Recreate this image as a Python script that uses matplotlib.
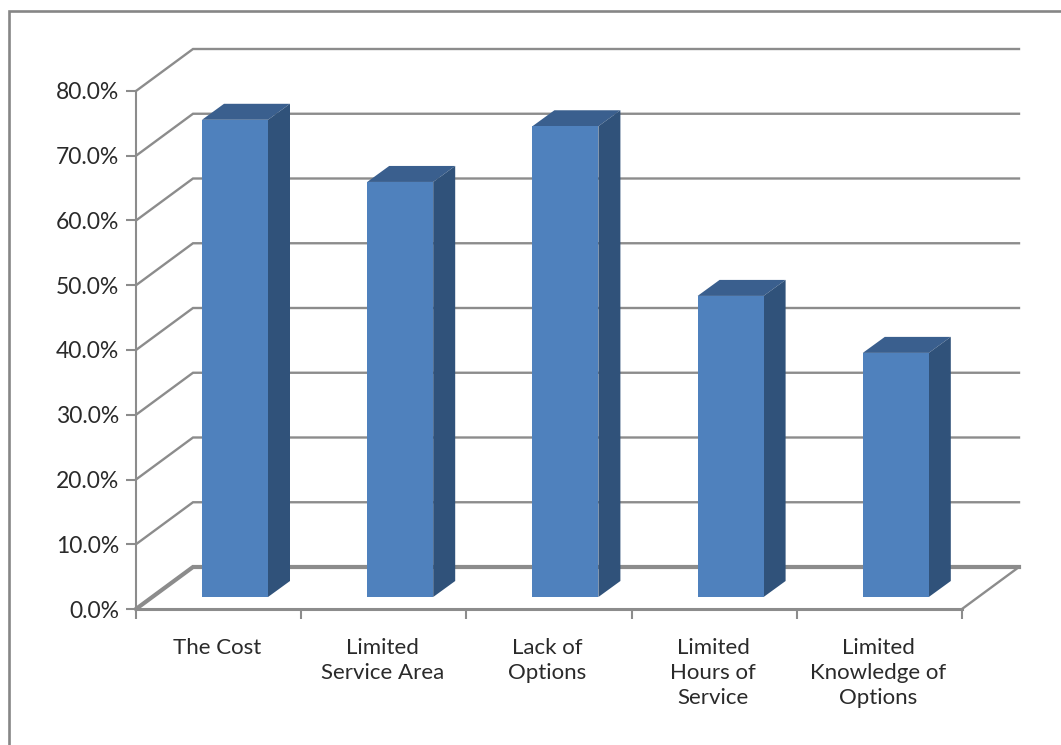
import matplotlib
matplotlib.use("Agg")
import matplotlib.pyplot as plt
from matplotlib.patches import Polygon, Rectangle

plt.rcParams['font.family'] = ['Lato', 'DejaVu Sans']

categories = ["The Cost", "Limited\nService Area", "Lack of\nOptions",
              "Limited\nHours of\nService", "Limited\nKnowledge of\nOptions"]
values = [73.7, 64.1, 72.7, 46.5, 37.7]
y_ticks = [0, 10, 20, 30, 40, 50, 60, 70, 80]

W, H = 1061, 745
L, R, T, B = 136, 962, 91, 609
GRID = '#8c8c8c'
FRONT = '#4f81bd'
TOP = '#3a5f8e'
SIDE = '#30527a'

fig = plt.figure(figsize=(W/100, H/100), dpi=100, facecolor='white')
ax = fig.add_axes([L/W, 1-B/H, (R-L)/W, (B-T)/H])
ax.set_xlim(-0.5, 4.5)
ax.set_ylim(0, 80)
ax.patch.set_visible(False)
for s in ('top', 'right'):
    ax.spines[s].set_visible(False)
for s in ('left', 'bottom'):
    ax.spines[s].set_color(GRID)
ax.spines['left'].set_linewidth(1.5)
ax.spines['bottom'].set_linewidth(2.2)

px = (R-L)/5          # pixels per category
py = (B-T)/80         # pixels per percent
wall_dx, wall_dy = 57/px, 42/py
bar_w = 66/px
bar_shift_x, bar_shift_y = 16.4/px, 12/py
depth_x, depth_y = 22/px, 16/py

# back wall grid and side wall lines
for v in y_ticks:
    lw = 3.0 if v == 0 else 1.7
    ax.plot([-0.5, -0.5+wall_dx, 4.5+wall_dx], [v, v+wall_dy, v+wall_dy],
            color=GRID, lw=lw if v == 0 else 1.7, clip_on=False, zorder=1,
            solid_joinstyle='miter')
    if v == 0:
        ax.plot([-0.5, -0.5+wall_dx], [0, wall_dy], color=GRID, lw=1.7, clip_on=False, zorder=1.1)
        ax.plot([4.5, 4.5+wall_dx], [0, wall_dy], color=GRID, lw=1.7, clip_on=False, zorder=1)

# bars
for i, v in enumerate(values):
    x0 = i + bar_shift_x - bar_w/2
    x1 = x0 + bar_w
    y0 = bar_shift_y
    y1 = y0 + v
    ax.add_patch(Polygon([(x0, y1), (x1, y1), (x1+depth_x, y1+depth_y), (x0+depth_x, y1+depth_y)],
                         closed=True, fc=TOP, ec='none', clip_on=False, zorder=3))
    ax.add_patch(Polygon([(x1, y0), (x1+depth_x, y0+depth_y), (x1+depth_x, y1+depth_y), (x1, y1)],
                         closed=True, fc=SIDE, ec='none', clip_on=False, zorder=3))
    ax.add_patch(Rectangle((x0, y0), bar_w, v, fc=FRONT, ec='none', clip_on=False, zorder=4))

ax.set_yticks(y_ticks)
ax.set_yticklabels([f"{v:.1f}%" for v in y_ticks], fontsize=16.5, color='#2a2a2a')
ax.set_xticks([i - 0.5 for i in range(6)])
ax.set_xticklabels([])
ax.tick_params(axis='y', length=7, width=1.5, color=GRID, pad=5)
ax.tick_params(axis='x', length=7, width=1.5, color=GRID)

for i, c in enumerate(categories):
    ax.annotate(c, xy=(i, 0), xycoords=('data', 'axes fraction'),
                xytext=(-1.2+i*0.1, -21), textcoords='offset points',
                ha='center', va='top', fontsize=16, color='#2a2a2a',
                linespacing=1.32, annotation_clip=False)

# chart frame, running off the right and bottom edges
fig.add_artist(plt.Line2D([9/W, 9/W, 1], [0, 1-11/H, 1-11/H], color='#868686', lw=1.9,
                          transform=fig.transFigure, solid_joinstyle='miter'))

fig.savefig("out.png", dpi=100)
